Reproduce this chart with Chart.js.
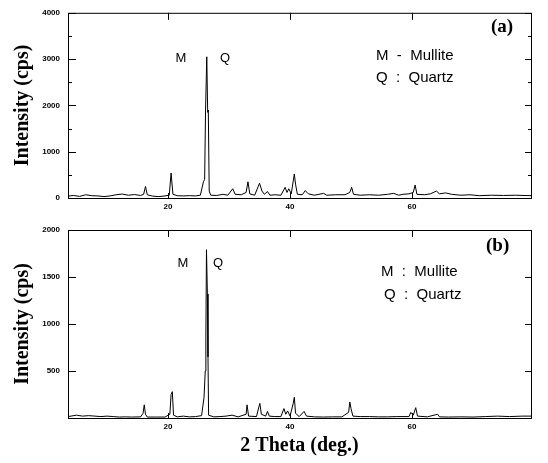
<!DOCTYPE html>
<html lang="en">
<head>
    <meta charset="UTF-8" />
    <title>XRD patterns (a) and (b)</title>
    <script src="https://cdn.jsdelivr.net/npm/chart.js"></script>
    <style>
        body { margin: 0; background: #fff; }
        .panel { position: absolute; left: 0; width: 548px; }
        #panelA { top: 0; height: 215px; }
        #panelB { top: 215px; height: 248px; }
    </style>
</head>
<body>

<div class="panel" id="panelA"><canvas id="chartA"></canvas></div>
<div class="panel" id="panelB"><canvas id="chartB"></canvas></div>

<script>
    // --- data ---
    const thetaA = [3.6, 4.5, 5.5, 6.5, 7.5, 8.5, 9.5, 10.5, 11.5, 12.5, 13.5, 14.5, 15.5, 16.0, 16.3, 16.6,
        17.5, 18.5, 19.5, 20.2, 20.5, 20.8, 21.5, 22.5, 23.5, 24.5, 25.3, 25.8, 26.0, 26.15, 26.35, 26.5,
        26.6, 26.75, 27.0, 28.0, 29.0, 29.8, 30.6, 31.0, 32.0, 32.8, 33.1, 33.4, 34.2, 35.0, 35.4, 35.8,
        36.3, 36.7, 37.5, 38.5, 39.2, 39.5, 39.8, 40.2, 40.7, 40.9, 41.2, 42.0, 42.5, 43.0, 44.0, 45.5,
        46.0, 47.5, 49.0, 49.8, 50.1, 50.4, 51.5, 53.0, 54.5, 56.0, 57.0, 57.8, 58.5, 59.5, 60.2, 60.5,
        60.8, 62.0, 63.0, 64.0, 64.5, 65.5, 66.5, 68.0, 69.5, 71.0, 73.0, 75.0, 77.0, 79.5];
    const intensityA = [40, 55, 35, 70, 50, 45, 30, 45, 70, 85, 60, 75, 55, 80, 250, 70,
        40, 30, 45, 60, 540, 80, 50, 45, 50, 45, 60, 350, 400, 1900, 3050, 1850,
        1900, 150, 60, 55, 80, 60, 200, 80, 70, 120, 350, 90, 60, 320, 150, 80,
        140, 60, 70, 60, 230, 120, 200, 90, 520, 300, 80, 70, 160, 90, 60, 100,
        60, 70, 70, 120, 230, 80, 60, 70, 60, 80, 100, 60, 80, 90, 120, 280,
        80, 70, 90, 150, 90, 110, 80, 60, 70, 50, 60, 55, 60, 50];

    const thetaB = [3.6, 5.0, 6.0, 7.0, 8.0, 9.0, 10.0, 11.0, 12.0, 13.0, 14.0, 15.5, 15.9, 16.1, 16.3, 16.6,
        18.0, 19.5, 20.3, 20.5, 20.7, 20.9, 21.5, 22.5, 23.5, 24.5, 25.5, 25.9, 26.1, 26.2, 26.3, 26.45,
        26.55, 26.65, 27.5, 28.5, 29.5, 30.5, 31.5, 32.8, 32.95, 33.2, 34.5, 34.9, 35.05, 35.3, 36.0, 36.3,
        36.6, 37.5, 38.5, 39.0, 39.3, 39.6, 40.0, 40.5, 40.7, 40.9, 41.5, 42.3, 42.7, 44.0, 45.5, 47.0,
        48.5, 49.6, 49.8, 50.0, 50.3, 51.5, 53.0, 54.5, 56.0, 57.5, 59.5, 59.8, 60.2, 60.6, 60.9, 62.5,
        64.2, 64.5, 66.0, 68.0, 70.0, 72.0, 74.0, 76.0, 78.0, 79.5];
    const intensityB = [15, 30, 20, 25, 20, 15, 20, 15, 10, 12, 10, 12, 50, 140, 40, 10,
        10, 10, 40, 250, 280, 30, 12, 20, 12, 15, 25, 220, 500, 850, 1790, 1320,
        650, 30, 12, 15, 20, 30, 12, 40, 140, 20, 15, 120, 155, 40, 20, 70,
        20, 15, 15, 100, 40, 75, 20, 150, 220, 50, 15, 70, 20, 12, 10, 12,
        12, 60, 170, 100, 20, 15, 15, 12, 12, 15, 15, 60, 30, 110, 20, 12,
        40, 12, 10, 12, 10, 15, 20, 15, 20, 20];

    const thetaRange = [3.6, 79.5];
    const xTickLabels = [20, 40, 60];
    const yTicksA = [0, 1000, 2000, 3000, 4000];
    const yMinorA = [500, 1500, 2500, 3500];
    const yTicksB = [500, 1000, 1500, 2000];

    const tickFont = { family: 'Liberation Sans, Arial, sans-serif', size: 8, weight: 'bold' };
    const titleFont = { family: 'Liberation Serif, Times New Roman, serif', size: 20, weight: 'bold' };

    // frame, inward tick marks and the text notes
    const framePlugin = {
        id: 'frame',
        afterDraw(chart, args, opts) {
            const { ctx, chartArea: a, scales: { x, y } } = chart;
            ctx.save();
            ctx.strokeStyle = '#000';
            ctx.lineWidth = 1;
            ctx.strokeRect(a.left + 0.5, a.top + 0.5, a.width, a.height);
            ctx.beginPath();
            xTickLabels.forEach(v => {
                const px = Math.round(x.getPixelForValue(v)) + 0.5;
                ctx.moveTo(px, a.top); ctx.lineTo(px, a.top + 7);
                ctx.moveTo(px, a.bottom); ctx.lineTo(px, a.bottom - 5);
            });
            opts.yMajor.forEach(v => {
                const py = Math.round(y.getPixelForValue(v)) + 0.5;
                ctx.moveTo(a.left, py); ctx.lineTo(a.left + 8, py);
                ctx.moveTo(a.right, py); ctx.lineTo(a.right - 6, py);
            });
            opts.yMinor.forEach(v => {
                const py = Math.round(y.getPixelForValue(v)) + 0.5;
                ctx.moveTo(a.left, py); ctx.lineTo(a.left + 4, py);
                ctx.moveTo(a.right, py); ctx.lineTo(a.right - 3, py);
            });
            ctx.stroke();
            ctx.fillStyle = '#000';
            ctx.textBaseline = 'middle';
            opts.notes.forEach(n => {
                ctx.font = n.font;
                ctx.textAlign = n.align || 'left';
                ctx.fillText(n.text, n.x, n.y);
            });
            ctx.restore();
        }
    };

    function makeChart(id, theta, intensity, yMax, yTicks, yMinor, showXTitle, pad, xHeight, notes) {
        const points = theta.map((t, i) => ({ x: t, y: intensity[i] }));
        return new Chart(document.getElementById(id), {
            type: 'line',
            data: {
                datasets: [{
                    data: points,
                    borderColor: '#000',
                    borderWidth: 1,
                    pointRadius: 0,
                    tension: 0,
                    fill: false
                }]
            },
            options: {
                animation: false,
                responsive: true,
                maintainAspectRatio: false,
                layout: { padding: pad },
                plugins: {
                    legend: { display: false },
                    tooltip: { enabled: false },
                    frame: { yMajor: yTicks, yMinor: yMinor, notes: notes }
                },
                scales: {
                    x: {
                        type: 'linear',
                        min: thetaRange[0],
                        max: thetaRange[1],
                        afterBuildTicks: s => { s.ticks = xTickLabels.map(v => ({ value: v })); },
                        afterFit: s => { s.height = xHeight; },
                        grid: { display: false, drawTicks: false },
                        border: { display: false },
                        ticks: { color: '#000', font: tickFont, padding: 4, maxRotation: 0,
                                 callback: v => String(v) },
                        title: {
                            display: showXTitle,
                            text: '2 Theta (deg.)',
                            color: '#000',
                            font: titleFont,
                            padding: { top: 0, bottom: 5 }
                        }
                    },
                    y: {
                        min: 0,
                        max: yMax,
                        afterBuildTicks: s => { s.ticks = yTicks.map(v => ({ value: v })); },
                        afterFit: s => { s.width = 68; },
                        grid: { display: false, drawTicks: false },
                        border: { display: false },
                        ticks: { color: '#000', font: tickFont, padding: 8,
                                 callback: v => String(v) },
                        title: {
                            display: true,
                            text: 'Intensity (cps)',
                            color: '#000',
                            font: titleFont,
                            padding: { top: 11, bottom: 0 }
                        }
                    }
                }
            },
            plugins: [framePlugin]
        });
    }

    const labelFont = '15px "Liberation Sans", Arial, sans-serif';
    const peakFont = '13px "Liberation Sans", Arial, sans-serif';
    const tagFont = 'bold 19px "Liberation Serif", "Times New Roman", serif';

    makeChart('chartA', thetaA, intensityA, 4000, yTicksA, yMinorA, false,
        { top: 9, right: 17, left: 0, bottom: 0 }, 17, [
            { text: '(a)', x: 491, y: 27, font: tagFont },
            { text: 'M  -  Mullite', x: 376, y: 56, font: labelFont },
            { text: 'Q  :  Quartz', x: 376, y: 78, font: labelFont },
            { text: 'M', x: 181, y: 58, font: peakFont, align: 'center' },
            { text: 'Q', x: 225, y: 58, font: peakFont, align: 'center' }
        ]);

    makeChart('chartB', thetaB, intensityB, 2000, yTicksB, [], true,
        { top: 15, right: 17, left: 0, bottom: 0 }, 45, [
            { text: '(b)', x: 486, y: 31, font: tagFont },
            { text: 'M  :  Mullite', x: 381, y: 57, font: labelFont },
            { text: 'Q  :  Quartz', x: 384, y: 80, font: labelFont },
            { text: 'M', x: 183, y: 48, font: peakFont, align: 'center' },
            { text: 'Q', x: 218, y: 48, font: peakFont, align: 'center' }
        ]);
</script>

</body>
</html>
